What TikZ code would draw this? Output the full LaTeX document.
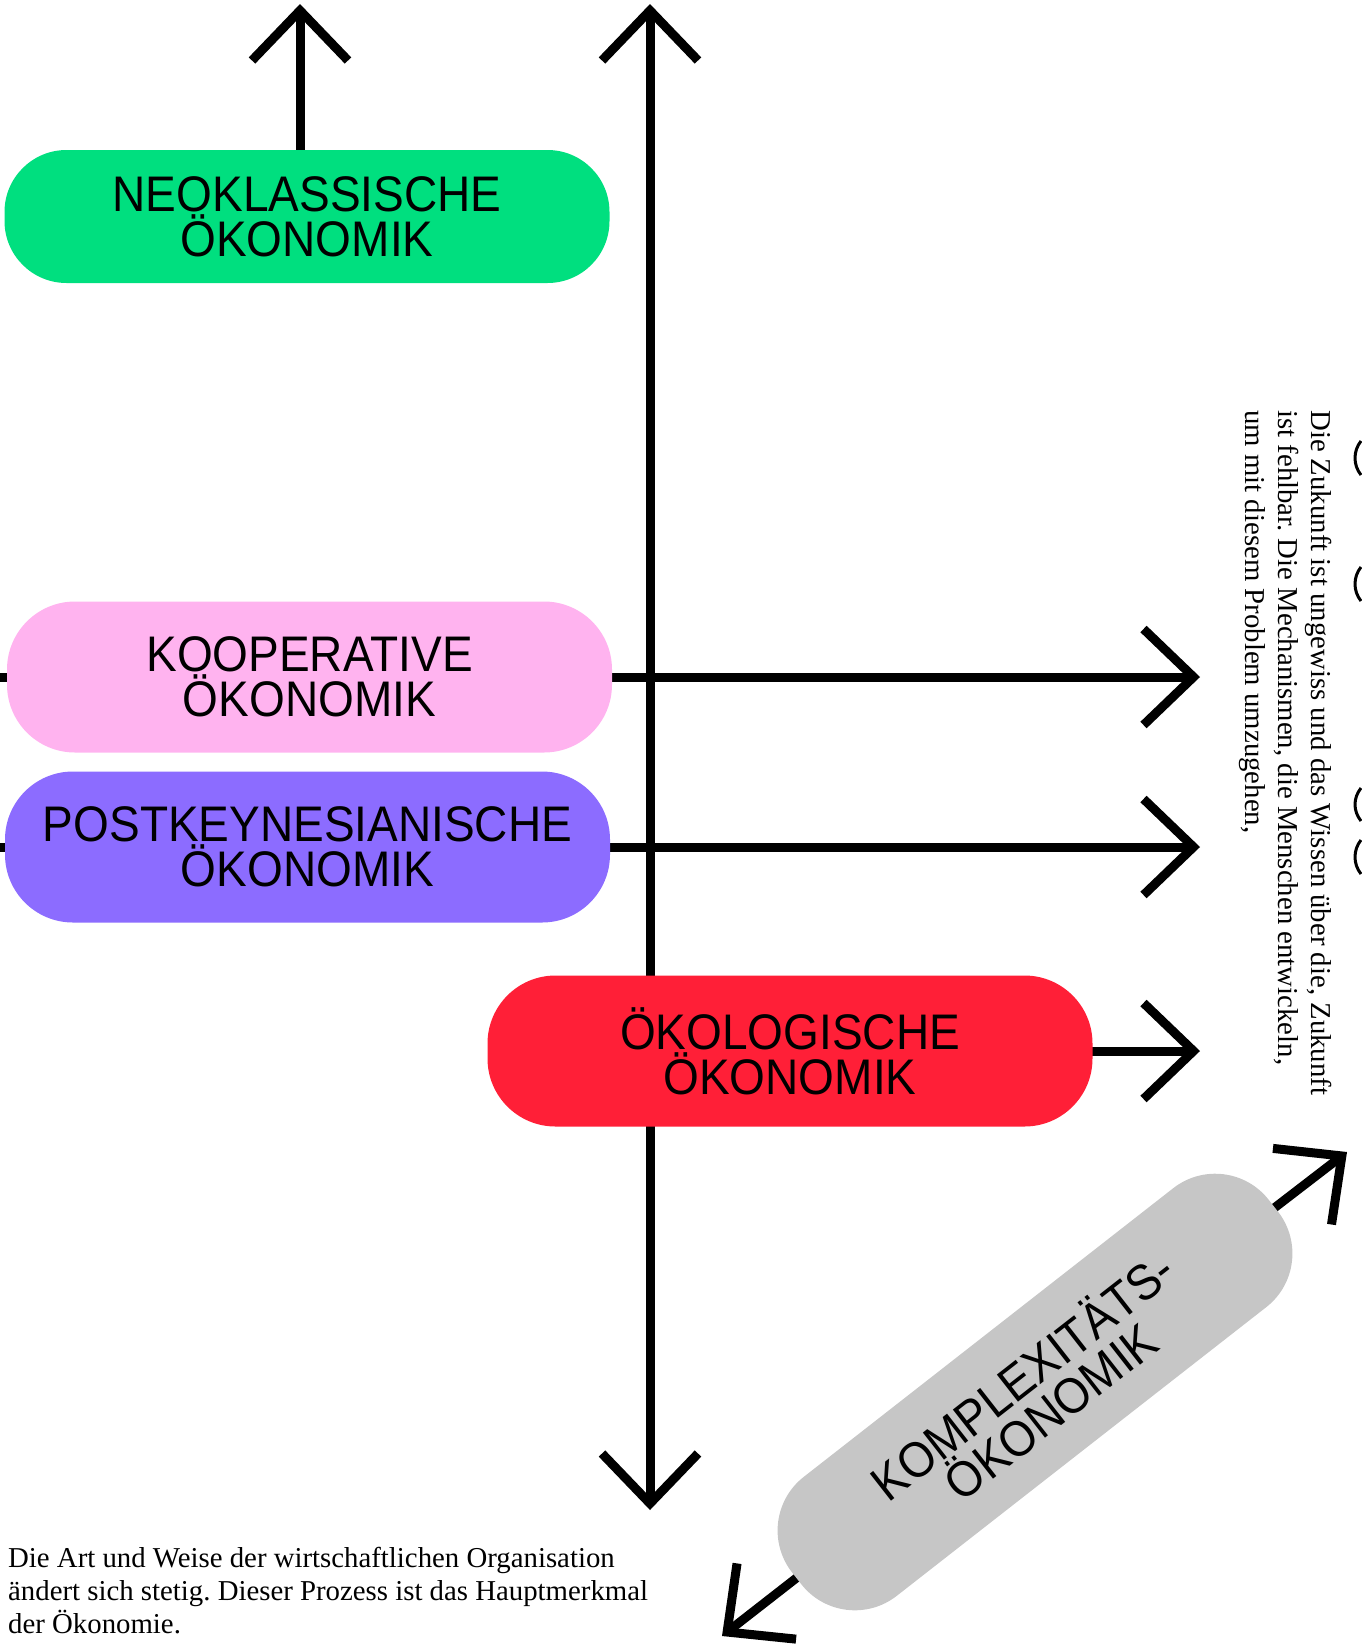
\documentclass[tikz,border=0pt]{standalone}
\usepackage{fontspec}
\usetikzlibrary{arrows.meta,backgrounds}
\newfontfamily\labelfont[FakeStretch=0.92]{Liberation Sans}
\newfontfamily\bodyfont{Liberation Serif}
\definecolor{neogreen}{HTML}{00DF7F}
\definecolor{koopink}{HTML}{FFB3EF}
\definecolor{postviolet}{HTML}{8C6CFF}
\definecolor{oekored}{HTML}{FF1F37}
\definecolor{kompgrey}{HTML}{C6C6C6}
\frenchspacing
\begin{document}
\begin{tikzpicture}[x=1pt,y=-1pt,
  conn/.style={line width=9pt,-{Straight Barb[length=50pt,width=96pt]}},
  conntwo/.style={line width=9pt,{Straight Barb[length=50pt,width=96pt]}-{Straight Barb[length=50pt,width=96pt]}},
  pill/.style={rounded corners=68pt,minimum width=605pt,minimum height=151pt,inner sep=0pt,
    align=center,text=black,font=\labelfont\fontsize{50}{45}\selectfont},
  bodytext/.style={inner sep=0pt,align=left,text=black,font=\bodyfont\fontsize{28.8}{33}\selectfont},
  cutglyph/.style={line width=3pt}]
\useasboundingbox (0,0) rectangle (1361,1647);

% boxes
\node[pill,fill=neogreen,minimum height=133pt,rounded corners=62pt] (neo) at (307,216.5) {NEOKLASSISCHE\\ÖKONOMIK};
\node[pill,fill=koopink] (koop) at (309.5,677) {KOOPERATIVE\\ÖKONOMIK};
\node[pill,fill=postviolet] (post) at (307.5,847) {POSTKEYNESIANISCHE\\ÖKONOMIK};
\node[pill,fill=oekored] (oeko) at (790,1051) {ÖKOLOGISCHE\\ÖKONOMIK};
\node[pill,fill=kompgrey,rotate=38] (komp) at (1035,1392) {KOMPLEXITÄTS-\\ÖKONOMIK};

% free ends
\coordinate (ntop) at (300,4);
\coordinate (vtop) at (650,4);
\coordinate (vbot) at (650,1510);
\coordinate (kstart) at (0,677);
\coordinate (kend) at (1200,677);
\coordinate (pstart) at (0,847);
\coordinate (pend) at (1200,847);
\coordinate (oend) at (1200,1051);
\coordinate (cup) at (1347,1152);
\coordinate (cdown) at (722,1636);

\begin{scope}[on background layer]
\draw[conn] (ntop |- neo.north) -- (ntop);
\draw[conntwo] (vbot) -- (vtop);
\draw[conn] (kstart) -- (koop.center) -- (kend);
\draw[conn] (pstart) -- (post.center) -- (pend);
\draw[conn] (oeko.center) -- (oend);
\draw[conntwo] (cdown) -- (komp.center) -- (cup);
\end{scope}

% texts
\node[bodytext,anchor=north west] (bottomtext) at (8,1547)
  {Die Art und Weise der wirtschaftlichen Organisation\\ändert sich stetig. Dieser Prozess ist das Hauptmerkmal\\der Ökonomie.};
\node[bodytext,rotate=-90,anchor=north west] (sidetext) at (1332,410)
  {Die Zukunft ist ungewiss und das Wissen über die, Zukunft\\ist fehlbar. Die Mechanismen, die Menschen entwickeln,\\um mit diesem Problem umzugehen,};

% cut-off glyph edges at the right border
\draw[cutglyph] (1361,441) .. controls (1353,451) and (1353,465) .. (1361,475);
\draw[cutglyph] (1361,567) .. controls (1353,577) and (1353,591) .. (1361,601);
\draw[cutglyph] (1361,788) .. controls (1353,798) and (1353,811) .. (1361,821);
\draw[cutglyph] (1361,840) .. controls (1353,850) and (1353,864) .. (1361,874);
\end{tikzpicture}
\end{document}
